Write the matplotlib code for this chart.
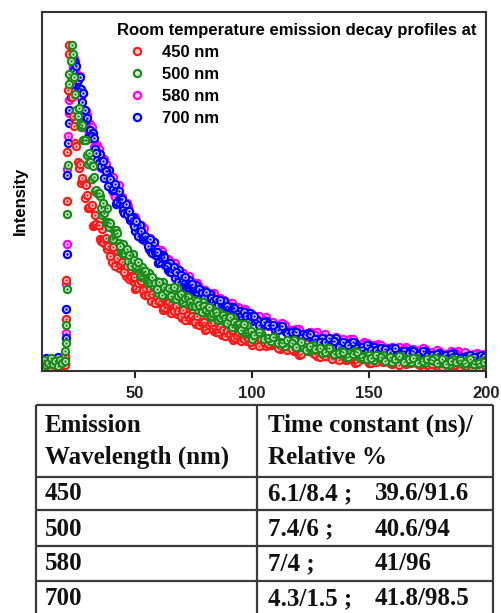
import matplotlib
matplotlib.use("Agg")
import matplotlib.pyplot as plt
from matplotlib.lines import Line2D
import numpy as np

plt.rcParams['font.family'] = ['Liberation Sans', 'DejaVu Sans']

# tempo (ns): linha de base, subida, cauda
time_ns = np.concatenate([
    np.arange(10, 21),
    [20.3, 20.5, 20.7, 20.9, 21.1, 21.4, 21.7, 22.0, 22.5, 23.0, 23.5, 24.0, 24.5],
    np.arange(25, 101),
    np.arange(102, 201, 2),
])
# canais intermediarios da cauda
time_half = np.concatenate([np.arange(25.5, 100, 1.0), np.arange(101, 200, 2)])

# intensidade normalizada (% do pico)
int_450 = [
    2.1, 1.2, 2.6, 1.5, 0.9, 2.3, 1.8, 1.0, 2.5, 1.4, 1.9,
    4.5, 16, 28, 52, 67, 86, 100, 97, 89, 84, 78, 75, 70,
    69.0, 62.3, 57.5, 58.3, 57.0, 50.0, 49.8, 44.5, 47.8, 44.8, 40.5, 43.5, 39.3, 37.3, 39.1, 33.5, 36.2, 37.1, 31.7, 32.6,
    32.6, 29.1, 30.3, 31.4, 27.6, 25.2, 27.8, 27.9, 25.3, 23.7, 25.9, 23.5, 21.6, 23.8, 24.6, 20.8, 21.6, 18.7, 22.1, 20.5,
    18.2, 21.0, 18.6, 17.5, 19.3, 16.2, 17.7, 18.3, 15.6, 16.2, 16.6, 14.3, 15.5, 16.6, 14.1, 12.6, 14.7, 14.9, 13.1, 12.2,
    13.9, 12.2, 11.1, 12.8, 13.5, 10.8, 11.5, 9.6, 12.2, 11.1, 9.5, 11.6, 10.0, 9.2, 10.6, 8.1,
    9.5, 9.9, 7.7, 8.1, 8.4, 6.6, 7.4, 8.2, 6.2, 5.0, 6.6, 6.7, 5.4, 4.5, 5.9, 4.6, 3.7, 5.0, 5.5, 3.5,
    4.1, 2.6, 4.6, 3.8, 2.6, 4.1, 3.1, 2.7, 3.6, 2.0, 3.1, 3.6, 2.0, 2.5, 2.9, 1.7, 2.5, 3.2, 1.9, 1.1,
    2.5, 2.7, 1.8, 1.3, 2.5, 1.6, 1.0, 2.1, 2.7, 1.2,
]
int_500 = [
    2.8, 3.5, 1.9, 2.6, 3.9, 2.2, 3.1, 1.6, 3.4, 2.5, 3.0,
    6, 8.5, 14, 25, 48, 63, 88, 91, 95, 100, 97, 90, 85,
    80.0, 80.5, 74.8, 70.8, 70.8, 63.3, 64.0, 62.8, 55.3, 54.5, 53.5, 47.8, 48.5, 49.8, 44.0, 40.3, 43.3, 43.1, 39.1, 36.5,
    38.8, 35.9, 33.6, 35.4, 35.8, 31.7, 32.2, 29.0, 32.0, 30.2, 27.6, 30.1, 27.4, 26.1, 27.7, 23.8, 26.2, 27.2, 23.6, 24.6,
    25.3, 22.3, 24.0, 25.5, 22.2, 20.8, 22.9, 23.0, 21.2, 20.1, 21.8, 20.0, 18.8, 20.4, 21.0, 18.2, 18.7, 16.6, 19.0, 17.8,
    16.0, 18.0, 16.3, 15.4, 16.7, 14.1, 15.6, 16.1, 13.4, 13.9, 14.3, 11.9, 13.0, 14.0, 11.4, 9.8,
    11.6, 11.6, 10.1, 9.1, 10.3, 8.9, 7.8, 9.0, 9.4, 7.3, 7.7, 6.1, 7.9, 7.0, 5.6, 7.2, 5.8, 5.2, 6.2, 4.2,
    5.5, 6.0, 4.0, 4.5, 4.9, 3.5, 4.3, 5.0, 3.6, 2.8, 4.1, 4.3, 3.3, 2.8, 4.0, 3.1, 2.4, 3.6, 4.1, 2.5,
    3.1, 1.9, 3.6, 3.0, 2.2, 3.5, 2.6, 2.2, 3.2, 1.6,
]
int_580 = [
    2.5, 3.2, 1.7, 3.6, 2.9, 1.4, 3.3, 2.6, 1.9, 3.0, 2.4,
    3.5, 11.7, 26.7, 39, 62, 72, 79, 83, 86, 90, 93, 96, 95,
    91.3, 90.1, 83.8, 85.1, 79.6, 73.8, 75.8, 71.1, 68.1, 69.1, 62.6, 64.8, 65.1, 59.1, 59.3, 59.3, 54.2, 55.6, 57.1, 51.6,
    49.1, 51.1, 50.6, 47.5, 45.4, 47.1, 44.1, 41.8, 43.5, 43.8, 39.5, 39.9, 36.6, 39.5, 37.5, 34.8, 37.2, 34.4, 32.9, 34.4,
    30.4, 32.4, 33.0, 29.0, 29.7, 29.9, 27.3, 28.2, 29.1, 26.3, 24.6, 26.5, 26.5, 24.5, 23.3, 24.9, 23.1, 21.8, 23.4, 23.9,
    21.1, 21.6, 19.5, 21.9, 20.7, 18.9, 20.9, 19.1, 18.2, 19.5, 16.9, 18.5, 19.1, 16.5, 17.1, 17.6,
    15.3, 15.9, 16.4, 14.2, 12.8, 14.2, 14.2, 12.6, 11.6, 12.8, 11.4, 10.4, 11.5, 11.9, 9.8, 10.2, 8.6, 10.4, 9.6, 8.2,
    9.8, 8.5, 7.8, 8.8, 6.8, 8.0, 8.4, 6.7, 7.2, 7.5, 6.1, 6.9, 7.5, 6.1, 5.2, 6.5, 6.7, 5.6, 5.1, 6.2,
    5.3, 4.6, 5.7, 6.2, 4.6, 5.1, 3.9, 5.5, 5.0, 4.1,
]
int_700 = [
    3.6, 2.4, 4.1, 3.0, 2.2, 3.8, 2.7, 4.4, 2.9, 3.3, 2.0,
    4, 10, 19, 36, 60, 70, 76, 80, 84, 88, 92, 95, 94,
    93.5, 86.8, 86.5, 85.3, 77.0, 71.8, 73.8, 72.8, 68.0, 64.5, 66.5, 62.3, 59.0, 61.3, 61.5, 55.5, 55.9, 51.3, 55.3, 52.6,
    49.2, 51.2, 48.0, 46.2, 47.3, 42.9, 44.5, 44.8, 40.5, 40.8, 40.9, 37.3, 38.4, 39.4, 35.5, 33.1, 35.5, 35.4, 32.6, 30.9,
    33.0, 30.4, 28.4, 30.4, 31.1, 27.5, 27.8, 25.5, 27.8, 26.4, 24.5, 26.3, 24.4, 23.3, 24.4, 21.7, 23.2, 23.7, 21.0, 21.5,
    21.9, 19.5, 20.6, 21.6, 19.0, 17.4, 19.5, 19.6, 17.8, 16.8, 18.5, 16.8, 15.6, 17.3, 17.9, 15.2,
    15.5, 13.7, 15.2, 14.1, 12.5, 13.9, 12.4, 11.5, 12.3, 10.1, 11.3, 11.7, 9.5, 9.9, 10.2, 8.4, 9.2, 10.0, 8.1, 6.9,
    8.5, 8.7, 7.3, 6.5, 7.9, 7.5, 6.5, 5.7, 6.8, 7.2, 5.5, 6.0, 4.7, 6.3, 5.6, 4.7, 6.0, 4.9, 4.5, 5.4,
    3.8, 4.9, 5.4, 3.8, 4.3, 4.7, 3.4, 4.2, 5.0, 3.6,
]

half_450 = [
    64.0, 63.5, 59.1, 53.1, 53.9, 50.1, 50.9, 44.7, 44.9, 44.8, 39.7, 39.4, 40.8, 38.3, 35.3, 37.9, 32.1, 34.6, 32.8, 33.4,
    30.2, 32.3, 28.3, 28.7, 28.7, 25.5, 27.1, 27.5, 24.9, 23.4, 23.4, 25.2, 23.6, 20.8, 23.0, 21.3, 22.9, 19.3, 20.4, 21.0,
    17.9, 18.4, 20.0, 18.5, 16.7,
    18.6, 15.6, 17.1, 16.2, 16.8, 14.9, 16.7, 14.1, 14.7, 15.0, 12.9, 14.1, 14.6, 13.0, 12.0,
    12.1, 13.6, 12.5, 10.7, 12.4, 11.3, 12.6, 10.1, 10.9, 11.5, 9.3, 9.8, 11.0, 10.0, 8.8,
    10.3, 7.8, 9.0, 8.2, 8.6, 7.2, 8.6, 6.3, 6.8, 7.0, 5.2, 6.3, 6.6, 5.2, 4.4, 4.5, 5.7, 4.9, 3.3, 4.7, 3.8, 5.0, 2.9, 3.7, 4.2,
    2.6, 2.9, 3.7, 3.1, 2.4, 3.6, 1.8, 2.9, 2.4, 3.0, 2.0, 3.2, 1.7, 2.2, 2.5, 1.3, 2.3, 2.7, 1.8, 1.3, 1.5, 2.5, 2.0, 0.9, 2.1,
]
half_500 = [
    78.0, 75.7, 75.3, 70.9, 66.1, 66.7, 58.9, 59.3, 55.5, 54.6, 49.8, 51.6, 45.6, 45.7, 45.2, 40.5, 42.0, 42.2, 38.4, 36.1,
    36.1, 37.4, 35.5, 32.2, 34.1, 32.1, 33.4, 29.4, 30.2, 30.5, 27.1, 27.3, 28.7, 27.0, 25.0, 27.3, 23.3, 25.6, 24.5, 25.5,
    23.1, 25.7, 22.2, 23.0, 23.5,
    21.1, 22.3, 22.7, 21.0, 19.9, 20.0, 21.3, 20.2, 18.2, 19.9, 18.6, 19.7, 17.0, 17.7, 18.1,
    15.7, 16.1, 17.2, 16.1, 14.8, 16.5, 13.5, 14.9, 14.0, 14.5, 12.6, 14.3, 11.6, 12.1, 12.3,
    11.1, 12.0, 9.7, 10.2, 10.4, 8.5, 8.6, 9.5, 8.6, 7.4, 8.8, 6.3, 7.6, 6.8, 7.2, 5.8, 7.2, 5.1, 5.6, 5.9, 4.2, 5.3, 5.7, 4.3, 3.6,
    3.9, 4.9, 4.3, 3.1, 4.3, 3.6, 4.5, 2.9, 3.6, 4.0, 2.6, 3.0, 3.8, 3.3, 2.6, 3.8, 2.0, 3.2, 2.8, 3.3, 2.3, 3.6, 2.1, 2.6, 2.9,
]
half_580 = [
    90.3, 90.3, 85.4, 78.4, 78.5, 74.1, 74.7, 68.5, 68.5, 67.9, 62.5, 62.2, 63.3, 60.4, 57.1, 59.3, 53.2, 55.2, 53.0, 53.4,
    49.9, 51.6, 47.2, 47.3, 47.0, 43.4, 44.6, 44.6, 41.6, 39.7, 39.3, 40.7, 38.8, 35.6, 37.5, 35.5, 36.8, 32.8, 33.6, 33.9,
    30.5, 30.7, 32.0, 30.3, 28.3,
    30.0, 26.8, 28.0, 27.0, 27.3, 25.3, 26.9, 24.1, 24.5, 24.7, 22.5, 23.6, 24.0, 22.2, 21.1,
    21.1, 22.4, 21.2, 19.2, 20.8, 19.5, 20.7, 18.0, 18.8, 19.3, 17.0, 17.4, 18.5, 17.4, 16.1,
    16.1, 16.9, 15.7, 13.8, 14.9, 13.7, 14.6, 12.3, 12.7, 12.9, 11.0, 11.2, 12.0, 11.1, 9.9, 11.3, 8.8, 10.1, 9.3, 9.8, 8.4, 9.9, 7.8, 8.2, 8.5,
    7.0, 7.8, 8.1, 7.1, 6.5, 6.6, 7.5, 6.8, 5.7, 6.7, 6.0, 6.9, 5.3, 5.9, 6.3, 4.9, 5.2, 6.0, 5.4, 4.7, 5.9, 4.1, 5.2, 4.7, 5.3,
]
half_700 = [
    89.3, 90.1, 82.4, 80.0, 77.5, 71.5, 72.1, 71.5, 66.9, 63.7, 62.7, 64.2, 61.3, 56.8, 58.9, 55.9, 57.4, 51.8, 52.6, 52.8,
    48.5, 48.2, 49.0, 46.8, 44.3, 46.0, 41.3, 42.9, 41.1, 41.4, 38.4, 40.4, 36.3, 36.6, 36.6, 33.3, 34.7, 34.9, 32.1, 30.5,
    30.4, 32.0, 30.3, 27.4, 29.5,
    27.8, 28.7, 25.8, 26.4, 26.6, 24.1, 24.3, 25.2, 23.9, 22.5, 24.1, 21.1, 22.5, 21.6, 22.1,
    20.2, 21.9, 19.2, 19.7, 19.9, 17.7, 18.9, 19.3, 17.6, 16.6, 16.7, 18.1, 17.0, 15.1, 16.8,
    16.7, 14.0, 15.0, 14.0, 14.2, 12.6, 13.9, 11.5, 11.8, 11.9, 10.1, 11.0, 11.3, 9.8, 9.0, 9.0, 10.1, 9.2, 7.5, 8.9, 7.9, 9.0, 6.9, 7.5, 7.9,
    6.3, 6.5, 7.2, 6.6, 5.8, 6.9, 5.0, 6.1, 5.6, 6.0, 5.0, 6.2, 4.5, 5.0, 5.2, 4.0, 4.9, 5.3, 4.3, 3.7, 3.9, 4.9, 4.3, 3.2, 4.4,
]

# tabela
header_left = ['Emission', 'Wavelength (nm)']
header_right = ['Time constant (ns)/', 'Relative %']
wavelengths = ['450', '500', '580', '700']
short_part = ['6.1/8.4 ;', '7.4/6 ;', '7/4 ;', '4.3/1.5 ;']
long_part = ['39.6/91.6', '40.6/94', '41/96', '41.8/98.5']

labels = ['450 nm', '500 nm', '580 nm', '700 nm']
colors = {'450 nm': ('#ff1a1a', '#ffd9d9'), '500 nm': ('#1a8c1a', '#d9efd9'),
          '580 nm': ('#ff00ff', '#ffd9ff'), '700 nm': ('#0000ff', '#d9d9ff')}

# ordem de desenho: verde por cima
series = [
    ('580 nm', int_580, half_580),
    ('700 nm', int_700, half_700),
    ('450 nm', int_450, half_450),
    ('500 nm', int_500, half_500),
]

mk = dict(marker='o', ls='none', ms=5.2, mew=1.6)

fig = plt.figure(figsize=(5.01, 6.13), dpi=100)
ax = fig.add_axes([42 / 501, 1 - 371 / 613, 444 / 501, 359 / 613])

for name, values, half in series:
    color, face = colors[name]
    t = np.concatenate([time_ns, time_half])
    v = np.concatenate([values, half])
    ax.plot(t, v, mec=color, mfc=face, **mk)
    ax.plot(t, v, '.', ls='none', ms=1.5, color=color)

ax.set_xlim(10.3, 200)
ax.set_ylim(0, 110)
ax.set_xticks([50, 100, 150, 200])
ax.set_yticks([])
ax.tick_params(axis='x', direction='out', length=5, width=1.5, pad=6,
               labelsize=12, colors='#222222')
for lab in ax.get_xticklabels():
    lab.set_fontweight('bold')
for sp in ax.spines.values():
    sp.set_linewidth(1.5)
    sp.set_color('#333333')

fig.text(20 / 501, 1 - 201 / 613, 'Intensity', rotation=90, ha='center', va='center',
         fontsize=12, fontweight='bold')

handles = [Line2D([], [], mec=colors[n][0], mfc=colors[n][1], **mk) for n in labels]
ax.legend(handles, labels,
          title='Room temperature emission decay profiles at',
          loc='upper left', bbox_to_anchor=(0.168, 0.97), frameon=False,
          prop={'weight': 'bold', 'size': 12},
          title_fontproperties={'weight': 'bold', 'size': 12},
          alignment='left', handlelength=2.5, handletextpad=0.25,
          labelspacing=0.42, borderpad=0, borderaxespad=0)

# tabela desenhada em coordenadas de pixel
tab = fig.add_axes([0, 0, 1, 1])
tab.set_xlim(0, 501)
tab.set_ylim(613, 0)
tab.axis('off')
line_kw = dict(color='#3a3a3a', lw=1.6)
tab.hlines([404.5, 477, 509.5, 545.5, 580.5], 36, 493, **line_kw)
tab.vlines([36, 257, 493], 404.5, 613, **line_kw)

serif = dict(family=['Liberation Serif', 'DejaVu Serif'], fontsize=18,
             fontweight='bold', va='baseline', ha='left', color='#111111')
for txt, yb in zip(header_left, [431.7, 464]):
    tab.text(45, yb, txt, **serif)
for txt, yb in zip(header_right, [431.7, 464]):
    tab.text(268, yb, txt, **serif)
row_base = [500, 535.7, 570, 605]
for wl, sp_, lp, yb in zip(wavelengths, short_part, long_part, row_base):
    tab.text(45, yb, wl, **serif)
    tab.text(268, yb, sp_, **serif)
    tab.text(375, yb, lp, **serif)

fig.savefig('out.png', dpi=100)
